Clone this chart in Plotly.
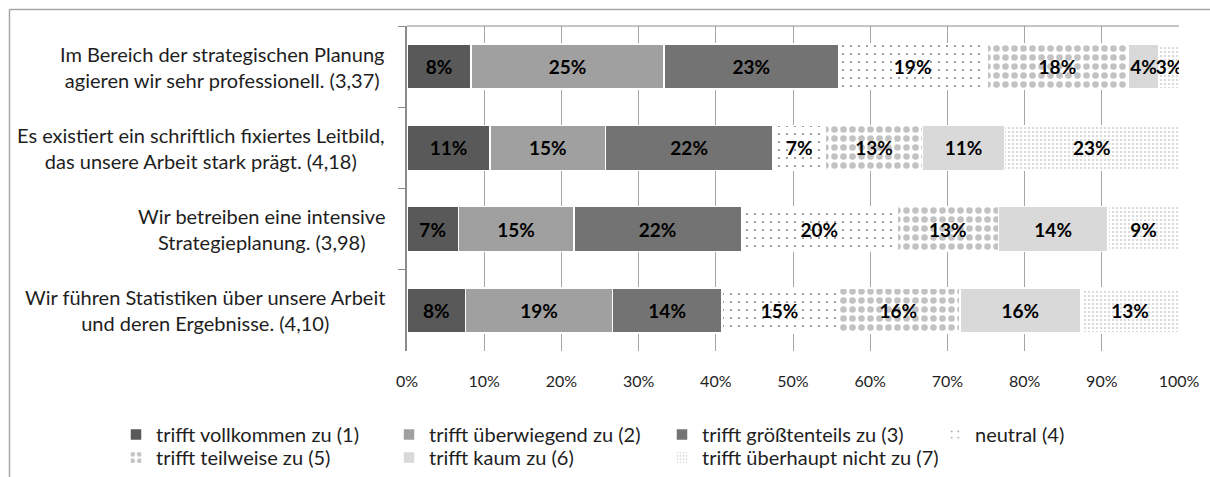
import plotly.graph_objects as go

# ---------------- data ----------------
categories = [
    "Im Bereich der strategischen Planung<br>agieren wir sehr professionell. (3,37)",
    "Es existiert ein schriftlich fixiertes Leitbild,<br>das unsere Arbeit stark prägt. (4,18)",
    "Wir betreiben eine intensive<br>Strategieplanung. (3,98)",
    "Wir führen Statistiken über unsere Arbeit<br>und deren Ergebnisse. (4,10)",
]
series_names = [
    "trifft vollkommen zu (1)",
    "trifft überwiegend zu (2)",
    "trifft größtenteils zu (3)",
    "neutral (4)",
    "trifft teilweise zu (5)",
    "trifft kaum zu (6)",
    "trifft überhaupt nicht zu (7)",
]
s1 = [8.3, 10.75, 6.65, 7.6]
s2 = [25.0, 14.95, 14.95, 19.0]
s3 = [22.6, 21.7, 21.7, 14.2]
s4 = [19.2, 6.8, 20.2, 14.9]
s5 = [18.3, 12.6, 13.1, 15.9]
s6 = [4.0, 10.6, 14.2, 15.7]
s7 = [2.6, 22.6, 9.2, 12.7]
x_ticks = [0, 10, 20, 30, 40, 50, 60, 70, 80, 90, 100]
x_tick_labels = ["0%", "10%", "20%", "30%", "40%", "50%", "60%", "70%", "80%", "90%", "100%"]

series_values = [s1, s2, s3, s4, s5, s6, s7]

# ---------------- styles ----------------
FONT = "Lato"
styles = [
    dict(color="#595959"),
    dict(color="#a0a0a0"),
    dict(color="#737373"),
    dict(color="white", pattern=dict(shape=".", fgcolor="#7a7a7a", bgcolor="white",
                                     size=8, solidity=0.045, fillmode="replace")),
    dict(color="white", pattern=dict(shape=".", fgcolor="#c2c2c2", bgcolor="white",
                                     size=9, solidity=0.42, fillmode="replace")),
    dict(color="#d9d9d9"),
    dict(color="white", pattern=dict(shape=".", fgcolor="#d2d2d2", bgcolor="white",
                                     size=4, solidity=0.22, fillmode="replace")),
]
legend_ids = ["legend", "legend", "legend", "legend", "legend2", "legend2", "legend3"]

fig = go.Figure()
for name, vals, st, lg in zip(series_names, series_values, styles, legend_ids):
    marker = dict(line=dict(color="white", width=1.5), **st)
    fig.add_trace(go.Bar(
        y=categories, x=vals, name=name, orientation="h",
        marker=marker, legend=lg,
        texttemplate="%{x:.0f}%", textposition="inside", insidetextanchor="middle",
        textangle=0,
        textfont=dict(family=FONT, size=19, color="black", weight="bold"),
        hoverinfo="skip",
    ))

# category labels as centred two-line annotations
for cat in categories:
    fig.add_annotation(
        x=-0.026, xref="paper", y=cat, yref="y", text=cat, showarrow=False,
        xanchor="right", yanchor="middle", align="center",
        font=dict(family=FONT, size=20, color="#1e1e1e"),
    )

L, R, T, B = 407, 31, 26, 126
W, H = 1210, 477
pw, ph = W - L - R, H - T - B

def px_x(p):
    return (p - L) / pw

def px_y(p):
    return (H - B - p) / ph

# outer frame (top + left edges visible)
fig.add_shape(type="line", xref="paper", yref="paper",
              x0=px_x(9.5), x1=px_x(1215), y0=px_y(9.5), y1=px_y(9.5),
              line=dict(color="#a6a6a6", width=1.5))
fig.add_shape(type="line", xref="paper", yref="paper",
              x0=px_x(9.5), x1=px_x(9.5), y0=px_y(9.5), y1=px_y(480),
              line=dict(color="#a6a6a6", width=1.5))
# plot area top line
fig.add_shape(type="line", xref="paper", yref="paper",
              x0=0, x1=1, y0=1, y1=1, line=dict(color="#8c8c8c", width=1.2))

legend_common = dict(
    orientation="h", xanchor="left", yanchor="top",
    traceorder="normal", entrywidthmode="pixels",
    font=dict(family=FONT, size=20, color="#1e1e1e"),
    bgcolor="rgba(0,0,0,0)",
)

fig.update_layout(
    width=W, height=H,
    margin=dict(l=L, r=R, t=T, b=B, autoexpand=False),
    barmode="stack", bargap=0.444,
    plot_bgcolor="white", paper_bgcolor="white",
    font=dict(family=FONT, color="#1e1e1e"),
    uniformtext=dict(minsize=19, mode="show"),
    showlegend=True,
    legend=dict(x=px_x(116), y=px_y(415), entrywidth=228, **legend_common),
    legend2=dict(x=px_x(116), y=px_y(438), entrywidth=228, **legend_common),
    legend3=dict(x=px_x(116 + 2 * 273), y=px_y(438), entrywidth=0, **legend_common),
    xaxis=dict(
        range=[0, 100], tickvals=x_ticks, ticktext=x_tick_labels,
        showgrid=True, gridcolor="#a6a6a6", gridwidth=1,
        zeroline=False, showline=False,
        ticks="outside", ticklen=16, tickcolor="rgba(0,0,0,0)",
        tickfont=dict(family=FONT, size=16, color="#1e1e1e"),
    ),
    yaxis=dict(
        categoryorder="array", categoryarray=categories, autorange="reversed",
        showticklabels=False, showgrid=False, zeroline=False,
        showline=True, linecolor="#8c8c8c", linewidth=1.5,
        ticks="outside", tickson="boundaries", ticklen=7, tickcolor="#8c8c8c",
    ),
)

fig.write_html("out.html", config={"displayModeBar": False},
               post_script="document.body.style.margin='0px';")
